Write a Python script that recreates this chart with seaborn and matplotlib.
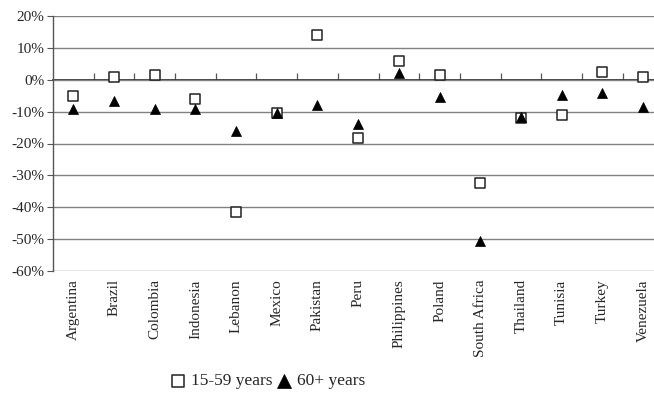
import matplotlib
matplotlib.use("Agg")
import matplotlib.pyplot as plt
import seaborn as sns
import pandas as pd
import numpy as np

countries = ["Argentina", "Brazil", "Colombia", "Indonesia", "Lebanon", "Mexico",
             "Pakistan", "Peru", "Philippines", "Poland", "South Africa",
             "Thailand", "Tunisia", "Turkey", "Venezuela"]
age_15_59 = [-5.2, 0.8, 1.6, -6.0, -41.5, -10.3, 14.1, -18.4, 5.8, 1.6, -32.4,
             -12.0, -11.0, 2.3, 0.8]
age_60_plus = [-9.3, -6.8, -9.3, -9.3, -16.0, -10.5, -7.8, -13.8, 2.0, -5.4,
               -50.6, -11.8, -4.7, -4.2, -8.6]
yticks = [20, 10, 0, -10, -20, -30, -40, -50, -60]

sns.set_theme(style="white")
plt.rcParams["font.family"] = ["Liberation Serif", "DejaVu Serif"]

df = pd.DataFrame({"country": countries, "a": age_15_59, "b": age_60_plus})
df["x"] = np.arange(len(countries))

fig = plt.figure(figsize=(6.54, 3.97), dpi=100)
ax = fig.add_axes([53/654, 1 - 271/397, 1 - 53/654, (271 - 16)/397])

sns.scatterplot(data=df, x="x", y="a", ax=ax, marker="s", s=42,
                facecolor="white", edgecolor="#222222", linewidth=1.1,
                label="15-59 years", zorder=3)
sns.scatterplot(data=df, x="x", y="b", ax=ax, marker="^", s=52,
                color="black", edgecolor="black", linewidth=0.5,
                label="60+ years", zorder=4)

ax.set_xlim(-0.5, len(countries) - 0.73)
ax.set_ylim(-60, 20)
ax.set_yticks(yticks)
ax.set_yticklabels([f"{v}%" for v in yticks], fontsize=11)
ax.set_xticks(df["x"])
ax.set_xticklabels(countries, rotation=90, fontsize=11)
ax.tick_params(axis="x", length=0, pad=6)
ax.tick_params(axis="y", left=True, length=4, width=0.8, color="#555555", pad=2)
ax.set_xlabel("")
ax.set_ylabel("")
for v in yticks:
    ax.axhline(v, color="#808080", lw=1.0, zorder=1)
for s in ["top", "right", "bottom"]:
    ax.spines[s].set_visible(False)
ax.spines["left"].set_color("#555555")
ax.spines["left"].set_linewidth(1.0)

sec = ax.secondary_xaxis(0.75)
sec.set_xticks(np.arange(len(countries)) + 0.5)
sec.set_xticklabels([])
sec.tick_params(axis="x", direction="out", length=5, width=0.9, color="#555555")
sec.spines["bottom"].set_visible(False)

ax.get_legend().remove()
handles, labels = ax.get_legend_handles_labels()
fig.legend(handles, labels, loc="center", bbox_to_anchor=(268/654, 1 - 381/397),
           ncol=2, frameon=False, fontsize=12.5, handletextpad=0.3,
           columnspacing=0.2, handlelength=0.9, markerscale=1.4)

fig.savefig("out.png", dpi=100)
